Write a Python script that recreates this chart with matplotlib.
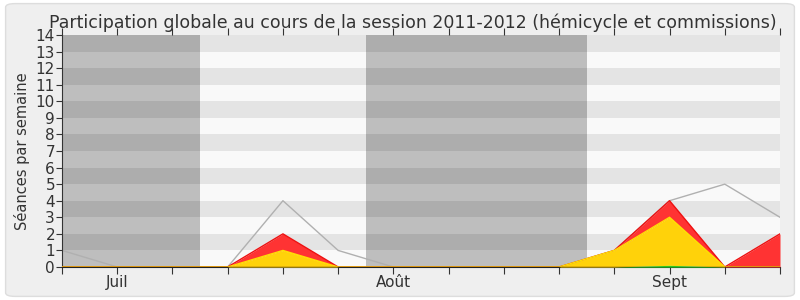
import matplotlib.pyplot as plt
from matplotlib.patches import FancyBboxPatch, Rectangle

# semaines de la session (une valeur par semaine)
semaines = list(range(14))
mois_pos = [1, 6, 11]
mois_labels = ["Juil", "Août", "Sept"]

# couches empilées (vert en bas, puis jaune, puis rouge)
vert = [0, 0, 0, 0, 0, 0, 0, 0, 0, 0, 0, 0.1, 0, 0]
jaune = [0, 0, 0, 0, 1, 0, 0, 0, 0, 0, 1, 2.9, 0, 0]
rouge = [0, 0, 0, 0, 1, 0, 0, 0, 0, 0, 0, 1, 0, 2]
# ligne grise : présence totale
total = [1, 0, 0, 0, 4, 1, 0, 0, 0, 0, 1, 4, 5, 3]

# périodes de vacances (grisées)
vacances = [(0, 2.5), (5.5, 9.5)]

fig = plt.figure(figsize=(8, 3), dpi=100)
fig.patch.set_facecolor("white")
fond = FancyBboxPatch((0.007, 0.012), 0.986, 0.976, boxstyle="round,pad=0,rounding_size=0.012",
                      transform=fig.transFigure, facecolor="#efefef", edgecolor="#dddddd", lw=1,
                      zorder=-10)
fig.patches.append(fond)

ax = fig.add_axes([0.0775, 0.11, 0.8975, 0.7733])
ax.set_xlim(0, 13)
ax.set_ylim(0, 14)

# bandes horizontales
for k in range(14):
    c = "#e4e4e4" if k % 2 else "#f9f9f9"
    ax.axhspan(k, k + 1, color=c, zorder=0, lw=0)
    for a, b in vacances:
        cv = "#adadad" if k % 2 else "#bebebe"
        ax.add_patch(Rectangle((a, k), b - a, 1, facecolor=cv, lw=0, zorder=0.5))

ax.plot(semaines, total, color="#b0b0b0", lw=1, zorder=2)

haut_j = [v + j for v, j in zip(vert, jaune)]
haut_r = [h + r for h, r in zip(haut_j, rouge)]
ax.fill_between(semaines, haut_j, haut_r, color="#ff3333", lw=0, zorder=3)
ax.plot(semaines, haut_r, color="#ee1111", lw=1, zorder=3)
ax.fill_between(semaines, vert, haut_j, color="#ffd20a", lw=0, zorder=4)
ax.plot(semaines, haut_j, color="#ffe000", lw=1, zorder=4)
ax.fill_between(semaines, 0, vert, color="#22ee22", lw=0, zorder=5)
ax.plot(semaines, [0] * len(semaines), color="#662200", lw=1, zorder=5)

ax.set_yticks(range(15))
etiquettes = ["" for s in semaines]
for p, m in zip(mois_pos, mois_labels):
    etiquettes[p] = m
ax.set_xticks(semaines)
ax.set_xticklabels(etiquettes)
ax.tick_params(axis="x", length=5, pad=1, labelsize=11, color="#333333", labelcolor="#333333")
ax.tick_params(axis="x", which="major", top=True, labeltop=False)
ax.tick_params(axis="y", length=4, pad=1, labelsize=11, colors="#333333")
for s in ["top", "right"]:
    ax.spines[s].set_visible(False)
ax.spines["left"].set_color("#333333")
ax.spines["bottom"].set_color("#222222")

ax.set_ylabel("Séances par semaine", fontsize=10.5, color="#333333", labelpad=4)
fig.text(0.516, 0.925, "Participation globale au cours de la session 2011-2012 (hémicycle et commissions)",
         ha="center", va="center", fontsize=12.5, color="#333333")

fig.savefig("out.png", dpi=100)
